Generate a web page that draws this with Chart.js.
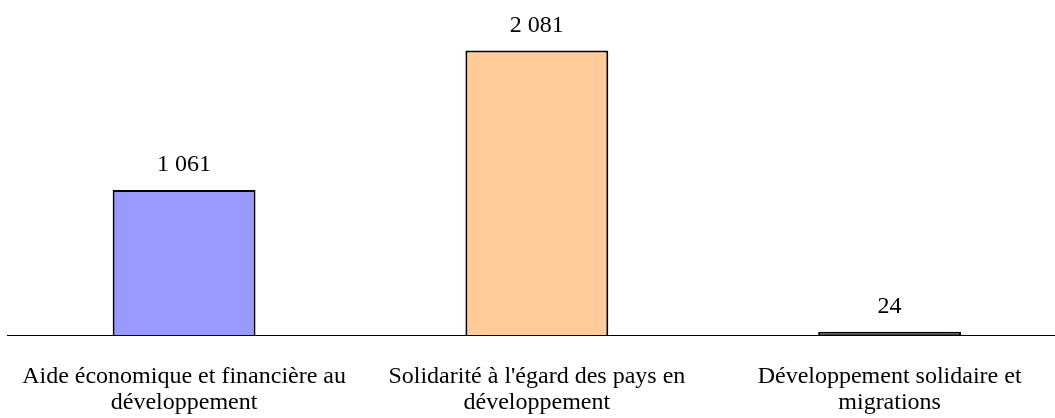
<!DOCTYPE html>
<html>
<head>
<meta charset="utf-8">
<script src="https://cdn.jsdelivr.net/npm/chart.js@4/dist/chart.umd.min.js"></script>
<style>
  html, body { margin: 0; padding: 0; background: #fff; overflow: hidden; }
  #wrap { position: relative; left: -7px; width: 1073px; height: 445px; }
</style>
</head>
<body>
<div id="wrap"><canvas id="chart"></canvas></div>
<script>
// Catégories et valeurs
const categories = [
  ['Aide économique et financière au', 'développement'],
  ["Solidarité à l'égard des pays en", 'développement'],
  ['Développement solidaire et', 'migrations']
];
const values = [1061, 2081, 24];
const barColors = ['#9999ff', '#ffcc99', '#3a4d3e'];

const serif = '"Liberation Serif", "Times New Roman", serif';

// Format français : espace comme séparateur de milliers
const formatFr = v => String(v).replace(/\B(?=(\d{3})+(?!\d))/g, ' ');

// Étiquettes de valeur au-dessus des barres
const valueLabels = {
  id: 'valueLabels',
  afterDatasetsDraw(chart) {
    const { ctx } = chart;
    const meta = chart.getDatasetMeta(0);
    ctx.save();
    ctx.font = '24px ' + serif;
    ctx.fillStyle = '#000';
    ctx.textAlign = 'center';
    ctx.textBaseline = 'middle';
    meta.data.forEach((bar, i) => {
      ctx.fillText(formatFr(values[i]), bar.x, bar.y - 25);
    });
    ctx.restore();
  }
};

const ctx = document.getElementById('chart').getContext('2d');
new Chart(ctx, {
  type: 'bar',
  data: {
    labels: categories,
    datasets: [{
      data: values,
      backgroundColor: barColors,
      borderColor: '#000',
      borderWidth: 2,
      barPercentage: 0.405,
      categoryPercentage: 1
    }]
  },
  options: {
    responsive: true,
    maintainAspectRatio: false,
    animation: false,
    layout: { padding: { left: 1, right: 0, top: 0, bottom: 0 } },
    plugins: {
      legend: { display: false },
      tooltip: { enabled: false }
    },
    scales: {
      x: {
        grid: { display: false, drawTicks: false },
        border: { display: true, color: '#000', width: 1 },
        ticks: {
          color: '#000',
          padding: 29,
          maxRotation: 0,
          autoSkip: false,
          font: { family: serif, size: 24, lineHeight: 1.083 }
        }
      },
      y: {
        display: false,
        min: 0,
        max: 2450
      }
    }
  },
  plugins: [valueLabels]
});
</script>
</body>
</html>
